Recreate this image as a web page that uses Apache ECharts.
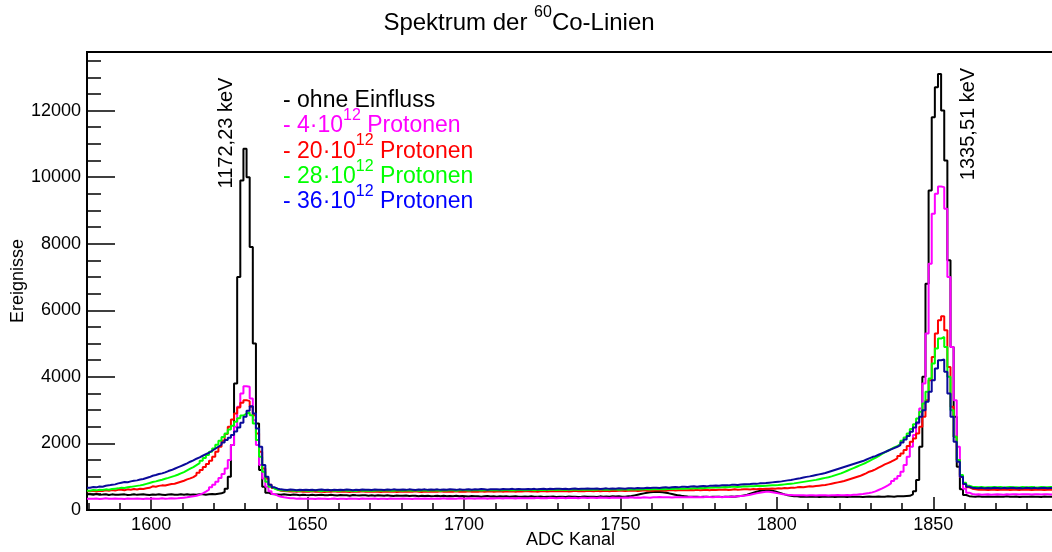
<!DOCTYPE html>
<html>
<head>
<meta charset="utf-8">
<script src="https://cdn.jsdelivr.net/npm/echarts@6/dist/echarts.min.js"></script>
<style>
html, body { margin: 0; padding: 0; background: #ffffff; }
#chart { width: 1052px; height: 552px; }
</style>
</head>
<body>
<div id="chart"></div>
<script>
// ADC channel of the first histogram bin; one bin per channel
const firstChannel = 1580;

// counts per channel, 1580 ... 1889 (ten channels per row)
const ohneEinfluss = [
  470, 455, 480, 460, 465, 475, 450, 470, 460, 455,
  465, 470, 450, 460, 475, 455, 465, 470, 460, 450,
  465, 455, 470, 460, 450, 465, 470, 455, 460, 475,
  460, 470, 455, 465, 460, 470, 475, 460, 470, 480,
  475, 490, 500, 540, 640, 1000, 1950, 3800, 7000, 9900,
  10850, 10000, 7900, 5000, 2600, 1200, 700, 520, 480, 470,
  465, 455, 470, 460, 450, 465, 455, 445, 460, 450,
  445, 455, 440, 450, 460, 445, 440, 455, 445, 435,
  450, 440, 445, 430, 450, 440, 435, 445, 440, 430,
  440, 430, 445, 435, 425, 440, 430, 420, 435, 430,
  425, 435, 420, 430, 425, 415, 430, 420, 425, 415,
  420, 430, 415, 425, 410, 420, 415, 425, 410, 420,
  415, 405, 420, 410, 415, 400, 410, 420, 405, 410,
  400, 415, 405, 410, 395, 405, 410, 400, 395, 405,
  400, 410, 395, 400, 405, 390, 400, 395, 405, 390,
  395, 400, 390, 405, 395, 400, 390, 395, 405, 400,
  395, 400, 390, 410, 400, 405, 395, 410, 405, 415,
  395, 400, 410, 420, 440, 460, 480, 500, 520, 535,
  540, 545, 540, 530, 515, 500, 480, 460, 440, 425,
  415, 405, 400, 395, 400, 390, 395, 400, 390, 395,
  395, 400, 390, 400, 395, 405, 400, 410, 420, 440,
  460, 490, 520, 550, 570, 585, 590, 590, 580, 560,
  530, 500, 470, 445, 430, 415, 410, 400, 405, 395,
  400, 395, 405, 390, 400, 395, 400, 405, 390, 400,
  395, 400, 390, 405, 395, 400, 395, 390, 400, 405,
  395, 400, 405, 395, 400, 410, 405, 400, 410, 415,
  415, 420, 425, 470, 560, 900, 1900, 4000, 6800, 9600,
  11800, 12700, 13100, 12000, 10500, 7500, 4900, 2800, 1300, 620,
  450, 415, 405, 400, 410, 395, 400, 405, 395, 400,
  405, 395, 400, 410, 395, 400, 405, 390, 400, 395,
  400, 405, 395, 400, 390, 405, 400, 395, 400, 405
];

const protonen4 = [
  340, 335, 345, 330, 340, 350, 335, 340, 345, 335,
  340, 330, 345, 340, 335, 345, 340, 330, 345, 340,
  345, 340, 335, 350, 340, 345, 355, 345, 350, 360,
  370, 380, 395, 410, 430, 460, 500, 550, 610, 680,
  760, 850, 960, 1080, 1250, 1500, 1950, 2500, 3100, 3500,
  3720, 3700, 3350, 2700, 1950, 1350, 950, 700, 560, 480,
  430, 400, 380, 365, 355, 350, 340, 345, 335, 340,
  335, 340, 330, 345, 335, 340, 330, 335, 345, 330,
  340, 335, 330, 345, 335, 340, 330, 345, 335, 340,
  335, 345, 330, 340, 335, 330, 345, 340, 335, 340,
  345, 335, 340, 330, 345, 340, 335, 345, 340, 335,
  340, 345, 335, 350, 340, 345, 335, 340, 350, 345,
  340, 350, 345, 340, 355, 345, 350, 340, 355, 345,
  350, 355, 345, 360, 350, 355, 345, 360, 355, 350,
  355, 360, 350, 365, 355, 360, 350, 365, 360, 355,
  360, 365, 355, 370, 360, 365, 355, 370, 365, 360,
  365, 370, 360, 375, 365, 370, 360, 375, 370, 365,
  370, 375, 365, 380, 370, 375, 365, 380, 375, 370,
  380, 385, 390, 385, 380, 385, 375, 380, 385, 380,
  385, 380, 390, 385, 380, 390, 385, 395, 390, 385,
  390, 395, 385, 400, 390, 395, 400, 410, 420, 430,
  445, 460, 480, 500, 520, 535, 545, 545, 535, 520,
  500, 480, 465, 455, 450, 445, 440, 445, 440, 435,
  440, 445, 435, 440, 445, 440, 435, 445, 440, 450,
  445, 440, 450, 445, 455, 460, 470, 480, 495, 510,
  530, 560, 600, 640, 690, 740, 800, 870, 940, 1020,
  1150, 1350, 1600, 1900, 2250, 2600, 3050, 3800, 5300, 7400,
  8900, 9500, 9720, 9700, 9050, 7000, 4900, 3300, 1900, 1000,
  640, 520, 480, 465, 470, 460, 465, 470, 460, 465,
  470, 465, 460, 470, 465, 475, 470, 465, 470, 475,
  470, 465, 475, 470, 465, 470, 475, 465, 470, 475
];

const protonen20 = [
  560, 575, 555, 580, 570, 590, 575, 600, 585, 605,
  610, 595, 620, 610, 630, 615, 640, 630, 655, 665,
  710, 700, 725, 740, 735, 760, 780, 790, 820, 850,
  880, 920, 950, 990, 1050, 1120, 1200, 1290, 1380, 1480,
  1600, 1750, 1900, 2080, 2280, 2500, 2720, 2900, 3080, 3220,
  3300, 3270, 3100, 2850, 2300, 1750, 1250, 950, 760, 660,
  610, 580, 570, 560, 555, 565, 550, 560, 545, 555,
  550, 560, 545, 555, 550, 540, 555, 545, 560, 550,
  545, 555, 550, 540, 555, 545, 550, 560, 545, 550,
  555, 545, 550, 540, 555, 550, 545, 555, 540, 550,
  545, 555, 550, 545, 560, 550, 540, 555, 545, 550,
  555, 545, 560, 550, 545, 555, 550, 560, 545, 555,
  550, 560, 545, 555, 550, 565, 550, 555, 560, 550,
  555, 560, 550, 565, 555, 560, 550, 565, 555, 560,
  560, 555, 565, 550, 560, 570, 555, 565, 560, 570,
  565, 560, 570, 555, 565, 575, 560, 570, 565, 575,
  570, 565, 575, 560, 570, 580, 565, 575, 570, 580,
  575, 570, 580, 575, 585, 570, 580, 590, 575, 585,
  580, 590, 585, 595, 580, 590, 600, 585, 595, 590,
  595, 590, 600, 595, 605, 590, 600, 610, 595, 605,
  600, 610, 605, 615, 600, 610, 620, 610, 615, 625,
  620, 615, 630, 625, 635, 630, 640, 635, 645, 640,
  650, 645, 660, 655, 670, 665, 680, 690, 685, 700,
  710, 705, 720, 730, 740, 750, 770, 790, 810, 830,
  850, 870, 900, 930, 960, 990, 1020, 1060, 1100, 1150,
  1180, 1220, 1270, 1320, 1370, 1410, 1450, 1500, 1550, 1620,
  1700, 1800, 1920, 2050, 2150, 2300, 2500, 2800, 3300, 3900,
  4600, 5300, 5700, 5820, 5400, 4300, 3100, 2200, 1500, 1000,
  780, 680, 640, 620, 610, 615, 605, 600, 610, 605,
  600, 610, 605, 615, 600, 610, 605, 600, 615, 605,
  610, 600, 605, 615, 610, 600, 605, 610, 600, 605
];

const protonen28 = [
  580, 600, 590, 610, 600, 620, 610, 630, 640, 650,
  670, 660, 685, 695, 710, 725, 740, 760, 785, 810,
  840, 860, 885, 910, 940, 965, 995, 1025, 1060, 1100,
  1140, 1190, 1240, 1290, 1350, 1410, 1480, 1560, 1650, 1750,
  1850, 1960, 2080, 2190, 2300, 2420, 2530, 2650, 2760, 2840,
  2900, 2930, 2850, 2600, 2100, 1600, 1150, 850, 700, 640,
  610, 595, 585, 580, 590, 575, 585, 580, 590, 575,
  585, 575, 590, 580, 570, 585, 580, 590, 575, 585,
  580, 590, 575, 585, 580, 570, 590, 580, 585, 575,
  585, 580, 590, 575, 585, 590, 580, 575, 590, 585,
  580, 590, 585, 575, 590, 580, 585, 595, 580, 590,
  585, 595, 580, 590, 585, 595, 590, 580, 595, 590,
  590, 585, 595, 590, 600, 585, 595, 590, 600, 595,
  595, 600, 590, 605, 595, 600, 595, 605, 600, 595,
  600, 605, 595, 610, 600, 605, 600, 610, 605, 600,
  605, 610, 600, 615, 605, 610, 605, 615, 610, 605,
  610, 615, 605, 620, 610, 615, 610, 620, 615, 610,
  615, 620, 610, 625, 615, 620, 615, 625, 620, 615,
  620, 625, 620, 630, 625, 635, 630, 640, 635, 645,
  640, 650, 645, 655, 650, 660, 655, 665, 670, 675,
  680, 675, 685, 690, 685, 695, 700, 690, 700, 710,
  705, 715, 710, 720, 725, 720, 730, 735, 740, 745,
  750, 760, 770, 780, 790, 800, 815, 830, 845, 860,
  875, 890, 905, 925, 945, 965, 985, 1010, 1040, 1070,
  1100, 1140, 1180, 1220, 1260, 1300, 1340, 1380, 1420, 1470,
  1520, 1570, 1620, 1680, 1730, 1780, 1830, 1880, 1920, 1980,
  2080, 2180, 2300, 2430, 2580, 2750, 2950, 3200, 3550, 3950,
  4400, 4850, 5150, 5200, 4900, 4000, 3000, 2200, 1500, 1050,
  820, 730, 700, 690, 680, 690, 675, 685, 680, 690,
  680, 690, 675, 685, 690, 680, 685, 675, 690, 680,
  685, 690, 680, 675, 690, 685, 680, 690, 685, 680
];

const protonen36 = [
  670, 690, 680, 705, 700, 730, 740, 760, 770, 800,
  820, 840, 835, 860, 880, 890, 915, 930, 960, 990,
  1030, 1050, 1080, 1100, 1130, 1170, 1200, 1240, 1280, 1320,
  1360, 1400, 1450, 1490, 1540, 1580, 1630, 1680, 1720, 1780,
  1840, 1900, 1960, 2030, 2100, 2170, 2250, 2360, 2480, 2620,
  2800, 2980, 3120, 2900, 2450, 1900, 1350, 1000, 760, 680,
  640, 620, 610, 600, 615, 605, 595, 610, 600, 605,
  600, 610, 595, 605, 615, 600, 610, 595, 605, 600,
  610, 600, 615, 605, 595, 610, 600, 615, 605, 610,
  600, 615, 605, 610, 600, 615, 605, 620, 610, 605,
  615, 605, 620, 610, 600, 615, 610, 620, 605, 615,
  610, 620, 605, 615, 610, 625, 615, 605, 620, 610,
  615, 625, 610, 620, 615, 630, 620, 610, 625, 620,
  625, 615, 630, 620, 625, 635, 620, 630, 625, 620,
  630, 625, 635, 620, 630, 640, 625, 635, 630, 640,
  635, 630, 640, 625, 635, 645, 630, 640, 635, 645,
  640, 635, 645, 630, 640, 650, 635, 645, 640, 650,
  645, 640, 650, 655, 645, 660, 650, 655, 665, 660,
  665, 670, 660, 675, 680, 670, 685, 690, 680, 695,
  700, 690, 705, 710, 700, 715, 720, 710, 725, 730,
  735, 730, 740, 745, 740, 755, 760, 750, 765, 770,
  775, 780, 790, 785, 800, 805, 810, 820, 830, 840,
  850, 860, 875, 890, 900, 920, 940, 955, 975, 995,
  1010, 1030, 1050, 1070, 1090, 1110, 1140, 1170, 1200, 1230,
  1260, 1290, 1320, 1350, 1380, 1410, 1440, 1470, 1510, 1550,
  1590, 1620, 1660, 1700, 1740, 1780, 1820, 1860, 1900, 1950,
  2030, 2120, 2220, 2350, 2480, 2630, 2800, 3000, 3250, 3550,
  3900, 4250, 4500, 4520, 4150, 3500, 2800, 2050, 1450, 1000,
  780, 700, 670, 660, 655, 665, 650, 660, 655, 665,
  660, 650, 665, 655, 660, 670, 655, 660, 650, 665,
  660, 655, 665, 650, 660, 670, 655, 660, 665, 655
];

const xMajorTicks = [1600, 1650, 1700, 1750, 1800, 1850];
const xMinorTicks = [1580, 1590, 1600, 1610, 1620, 1630, 1640, 1650, 1660, 1670, 1680,
  1690, 1700, 1710, 1720, 1730, 1740, 1750, 1760, 1770, 1780, 1790, 1800, 1810, 1820,
  1830, 1840, 1850, 1860, 1870, 1880, 1890];
const yMajorTicks = [0, 2000, 4000, 6000, 8000, 10000, 12000];
const yMinorTicks = [500, 1000, 1500, 2000, 2500, 3000, 3500, 4000, 4500, 5000, 5500,
  6000, 6500, 7000, 7500, 8000, 8500, 9000, 9500, 10000, 10500, 11000, 11500, 12000,
  12500, 13000, 13500];

// legend lines: [text before exponent, exponent, text after, colour]
const legendEntries = [
  ['- ohne Einfluss', '', '', '#000000'],
  ['- 4\u00b710', '12', ' Protonen', '#ff00ff'],
  ['- 20\u00b710', '12', ' Protonen', '#ff0000'],
  ['- 28\u00b710', '12', ' Protonen', '#00ff00'],
  ['- 36\u00b710', '12', ' Protonen', '#0000ff']
];

const seriesList = [
  { name: 'ohne Einfluss', values: ohneEinfluss, color: '#000000' },
  { name: '4\u00b710^12 Protonen', values: protonen4, color: '#ff00ff' },
  { name: '20\u00b710^12 Protonen', values: protonen20, color: '#ff0000' },
  { name: '28\u00b710^12 Protonen', values: protonen28, color: '#00ff00' },
  { name: '36\u00b710^12 Protonen', values: protonen36, color: '#0a0a9a' }
];

const peakLabels = ['1172,23 keV', '1335,51 keV'];

const FONT = '"Liberation Sans", Arial, Helvetica, sans-serif';

// histogram bins are centred on integer channels: draw as steps from each bin's lower edge
function binSteps(values) {
  const pts = values.map((v, i) => [firstChannel + i - 0.5, v]);
  pts.push([firstChannel + values.length - 0.5, values[values.length - 1]]);
  return pts;
}

const plainNumber = (v) => String(Math.round(v));

const chart = echarts.init(document.getElementById('chart'), null, { renderer: 'canvas' });

const graphics = [];

// title with superscript mass number
graphics.push({
  type: 'text', x: 519, y: 20,
  style: {
    text: '{a|Spektrum der }{s|60}{a|Co-Linien}',
    align: 'center', verticalAlign: 'middle',
    rich: {
      a: { fontSize: 24, fontFamily: FONT, fill: '#000', lineHeight: 30, verticalAlign: 'bottom' },
      s: { fontSize: 16, fontFamily: FONT, fill: '#000', lineHeight: 16, verticalAlign: 'top' }
    }
  }
});

// legend block
legendEntries.forEach((e, i) => {
  const text = e[1] ? '{a|' + e[0] + '}{s|' + e[1] + '}{a|' + e[2] + '}' : '{a|' + e[0] + '}';
  graphics.push({
    type: 'text', x: 283, y: 97 + i * 25.4,
    style: {
      text: text, align: 'left', verticalAlign: 'middle',
      rich: {
        a: { fontSize: 23, fontFamily: FONT, fill: e[3], lineHeight: 30, verticalAlign: 'bottom' },
        s: { fontSize: 16, fontFamily: FONT, fill: e[3], lineHeight: 16, verticalAlign: 'top' }
      }
    }
  });
});

// rotated peak energy labels
graphics.push({
  type: 'text', x: 226, y: 133, rotation: Math.PI / 2,
  style: { text: peakLabels[0], align: 'center', verticalAlign: 'middle', fontSize: 20, fontFamily: FONT, fill: '#000' }
});
graphics.push({
  type: 'text', x: 968, y: 124, rotation: Math.PI / 2,
  style: { text: peakLabels[1], align: 'center', verticalAlign: 'middle', fontSize: 20, fontFamily: FONT, fill: '#000' }
});

const xMin = firstChannel - 0.5;
const xMax = 1890.5;
const yMax = 13760;

const option = {
  animation: false,
  backgroundColor: '#ffffff',
  textStyle: { fontFamily: FONT },
  grid: {
    left: 87, right: -8, top: 52, bottom: 42,
    outerBoundsMode: 'none', containLabel: false,
    show: true, borderColor: '#000', borderWidth: 2, backgroundColor: 'transparent'
  },
  xAxis: [
    {
      type: 'value', min: xMin, max: xMax, position: 'bottom',
      axisLine: { onZero: false, lineStyle: { color: '#000', width: 2 } },
      axisTick: { inside: true, length: 13, customValues: xMajorTicks, lineStyle: { color: '#000', width: 1.5 } },
      axisLabel: { customValues: xMajorTicks, formatter: plainNumber, fontSize: 18, color: '#000', margin: 6, fontFamily: FONT },
      splitLine: { show: false },
      name: 'ADC Kanal', nameLocation: 'middle', nameGap: 21, nameMoveOverlap: false,
      nameTextStyle: { fontSize: 18, color: '#000', fontFamily: FONT, padding: [0, 6, 0, 0] }
    },
    {
      type: 'value', min: xMin, max: xMax, position: 'bottom',
      axisLine: { show: false, onZero: false },
      axisTick: { inside: true, length: 7, customValues: xMinorTicks, lineStyle: { color: '#000', width: 1.5 } },
      axisLabel: { show: false },
      splitLine: { show: false }
    }
  ],
  yAxis: [
    {
      type: 'value', min: 0, max: yMax, position: 'left',
      axisLine: { show: true, onZero: false, lineStyle: { color: '#000', width: 2 } },
      axisTick: { show: true, inside: true, length: 28, customValues: yMajorTicks, lineStyle: { color: '#000', width: 1.5 } },
      axisLabel: { customValues: yMajorTicks, formatter: plainNumber, fontSize: 18, color: '#000', margin: 6, fontFamily: FONT },
      splitLine: { show: false },
      name: 'Ereignisse', nameLocation: 'middle', nameGap: 60, nameRotate: 90, nameMoveOverlap: false,
      nameTextStyle: { fontSize: 18, color: '#000', fontFamily: FONT }
    },
    {
      type: 'value', min: 0, max: yMax, position: 'left',
      axisLine: { show: false, onZero: false },
      axisTick: { show: true, inside: true, length: 14, customValues: yMinorTicks, lineStyle: { color: '#000', width: 1.5 } },
      axisLabel: { show: false },
      splitLine: { show: false }
    }
  ],
  series: seriesList.map((s, i) => ({
    name: s.name,
    type: 'line',
    xAxisIndex: 0, yAxisIndex: 0,
    step: 'end',
    showSymbol: false, symbol: 'none',
    silent: true,
    z: 2 + i,
    lineStyle: { color: s.color, width: 2 },
    data: binSteps(s.values)
  })),
  graphic: graphics
};

chart.setOption(option);
</script>
</body>
</html>
